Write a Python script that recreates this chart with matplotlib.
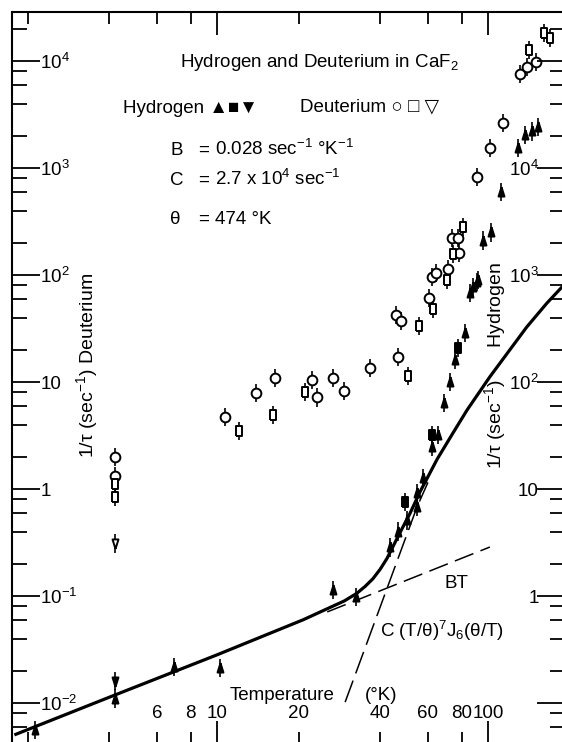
import numpy as np
import matplotlib.pyplot as plt

plt.rcParams['font.family'] = ['Liberation Sans', 'DejaVu Sans']
plt.rcParams['mathtext.fontset'] = 'custom'
plt.rcParams['mathtext.rm'] = 'Liberation Sans'
plt.rcParams['mathtext.it'] = 'Liberation Sans'
plt.rcParams['mathtext.bf'] = 'Liberation Sans:bold'

# ---- data (T in K, 1/tau in sec^-1) ----
# Deuterium, left scale
d_circ_T = [4.2, 4.2, 10.7, 13.9, 16.4, 22.4, 23.4, 26.8, 29.4, 36.7, 46.6, 45.8, 47.8,
            60.5, 62.1, 64.3, 71.2, 78.2, 73.6, 77.4, 91.1, 101.6, 113.5, 131, 139, 150]
d_circ_r = [1.99, 1.32, 4.7, 7.9, 10.9, 10.4, 7.2, 10.9, 8.2, 13.5, 17.1, 42.3, 37.2,
            60.9, 95.7, 104, 114, 161, 222, 222, 824, 1540, 2640, 7570, 8790, 9790]
d_sq_T = [4.2, 4.2, 12.1, 16.1, 21.1, 50.7, 55.6, 62.7, 70.6, 74.2, 80.8, 142, 161, 169]
d_sq_r = [1.11, 0.84, 3.5, 4.9, 8.1, 11.4, 33.4, 48.1, 89.8, 157, 281, 12700, 18300, 16400]
d_dtri_T = [4.2]
d_dtri_r = [0.31]

# Hydrogen, right scale
h_tri_T = [2.13, 4.2, 6.93, 10.3, 26.8, 32.6, 43.5, 46.6, 50.3, 54.7, 54.7, 57.5, 62.1,
           65.3, 68.9, 72.4, 75.8, 82.2, 85.9, 87.9, 91.1, 91.9, 95.9, 102.6, 111.7,
           129, 137, 145, 153]
h_tri_r = [0.056, 0.11, 0.217, 0.212, 1.14, 0.98, 2.85, 4.0, 5.1, 6.8, 9.2, 12.7, 24.7,
           32, 64, 100, 161, 287, 679, 773, 860, 898, 2100, 2500, 5970,
           15400, 20300, 22000, 24100]
h_sq_T = [49.4, 62.1, 77.4]
h_sq_r = [7.6, 32, 208]
h_dtri_T = [4.2]
h_dtri_r = [0.16]

# theory curves (hydrogen scale)
fit_T = [1.81, 4.03, 10.0, 20.8, 25.5, 29.5, 32.8, 35.2, 37.6, 40.0, 42.4, 47.3, 51.5,
         56.1, 64.9, 74.3, 83.8, 101.6, 139, 165, 187.5]
fit_r = [0.051, 0.114, 0.282, 0.60, 0.76, 0.90, 1.06, 1.23, 1.45, 1.78, 2.25, 3.9, 5.9,
         9.4, 19, 33.5, 55, 112, 327, 547, 773]
bt_T = [25.5, 101.6]
bt_r = [0.71, 2.87]
c_T = [29.7, 54.7, 60.0]
c_r = [0.102, 6.8, 11.5]

left_ticks = [1e-3, 1e-2, 1e-1, 1, 10, 1e2, 1e3, 1e4, 1e5]
left_labels = ['', '$10^{-2}$', '$10^{-1}$', '1', '10', '$10^{2}$', '$10^{3}$', '$10^{4}$', '']
right_ticks = [1e-1, 1, 10, 1e2, 1e3, 1e4, 1e5]
right_labels = ['', '1', '10', '$10^{2}$', '$10^{3}$', '$10^{4}$', '']
x_major = [10, 100]
x_minor = [2, 4, 6, 8, 20, 40, 60, 80]
x_minor_labels = ['', '', '6', '8', '20', '40', '60', '80']

W, H = 562, 742
def px(x):
    return x / W
def py(y):
    return 1 - y / H

fig = plt.figure(figsize=(W / 100, H / 100), dpi=100)
ax = fig.add_axes([px(12), py(744), (565 - 12) / W, (744 - 12) / H])
ax.set_xscale('log')
ax.set_yscale('log')
ax.set_xlim(10 ** 0.2435, 10 ** 2.284)
ax.set_ylim(10 ** -2.383, 10 ** 4.458)
axh = ax.twinx()
axh.set_yscale('log')
axh.set_ylim(10 ** -1.383, 10 ** 5.458)

rect = [(-0.55, -1), (0.55, -1), (0.55, 1), (-0.55, 1), (-0.55, -1)]
tri_up = [(0, 1), (-0.55, -0.75), (0.55, -0.75), (0, 1)]
tri_dn = [(0, -1), (-0.55, 0.75), (0.55, 0.75), (0, -1)]
err = 1.22

def bars(a, T, r, marker, ms, filled):
    r = np.array(r)
    yerr = [r - r / err, r * err - r]
    a.errorbar(T, r, yerr=yerr, fmt='none', ecolor='black', elinewidth=1.2,
               capsize=0, zorder=3)
    a.plot(T, r, linestyle='none', marker=marker, ms=ms,
           mfc='black' if filled else 'white', mec='black', mew=1.4, zorder=4)

# curves
axh.plot(fit_T, fit_r, color='black', lw=2.3, zorder=2, solid_joinstyle='round')
axh.plot(bt_T, bt_r, color='black', lw=1.1, dashes=(13, 5), zorder=2)
axh.plot(c_T, c_r, color='black', lw=1.1, dashes=(15, 5), zorder=2)

bars(ax, d_circ_T, d_circ_r, 'o', 7, False)
bars(ax, d_sq_T, d_sq_r, rect, 7.2, False)
bars(ax, d_dtri_T, d_dtri_r, tri_dn, 7.8, False)
bars(axh, h_tri_T, h_tri_r, tri_up, 7.8, True)
bars(axh, h_sq_T, h_sq_r, rect, 7.2, True)
bars(axh, h_dtri_T, h_dtri_r, tri_dn, 7.8, True)

# x ticks inside, labels inside near bottom
ax.set_xticks(x_major, labels=['10', '100'])
ax.set_xticks(x_minor, labels=x_minor_labels, minor=True)
ax.tick_params(axis='x', which='both', direction='in', top=True, bottom=True,
               labelsize=13.5, pad=-28, width=1.3)
ax.tick_params(axis='x', which='major', length=16.5)
ax.tick_params(axis='x', which='minor', length=8.6)

# left (deuterium) scale
ax.set_yticks(left_ticks, labels=left_labels)
ax.set_yticks([m * 10.0 ** k for k in range(-3, 5) for m in (2, 4, 6, 8)], minor=True)
ax.tick_params(axis='y', which='both', direction='in', left=True, right=False,
               labelleft=True, labelright=False, labelsize=13.5, pad=-20.5, width=1.3)
ax.tick_params(axis='y', which='major', length=20)
ax.tick_params(axis='y', which='minor', length=11)
ax.set_ylim(10 ** -2.383, 10 ** 4.458)
for lab in ax.get_yticklabels():
    lab.set_horizontalalignment('left')

# right (hydrogen) scale
axh.set_yticks(right_ticks, labels=right_labels)
axh.set_yticks([m * 10.0 ** k for k in range(-2, 6) for m in (2, 4, 6, 8)], minor=True)
axh.tick_params(axis='y', which='both', direction='in', left=False, right=True,
                labelleft=False, labelright=True, labelsize=13.5, pad=-19, width=1.3)
axh.tick_params(axis='y', which='major', length=20)
axh.tick_params(axis='y', which='minor', length=11)
axh.set_ylim(10 ** -1.383, 10 ** 5.458)
for lab in axh.get_yticklabels():
    lab.set_horizontalalignment('right')

for s in ax.spines.values():
    s.set_linewidth(1.5)
for s in axh.spines.values():
    s.set_visible(False)

# texts
fs = 13.5
fig.text(px(180), py(67), 'Hydrogen and Deuterium in CaF$_2$', fontsize=fs, va='baseline')
fig.text(px(123), py(113), 'Hydrogen \u25B2\u25A0\u25BC', fontsize=fs, va='baseline')
fig.text(px(300), py(111), 'Deuterium \u25CB \u25A1 \u25BD', fontsize=fs, va='baseline')
rows = [('B', '0.028 sec$^{-1}$ °K$^{-1}$', 155),
        ('C', '2.7 x 10$^{4}$ sec$^{-1}$', 185),
        ('\u03b8', '474 °K', 224)]
for name, val, yb in rows:
    fig.text(px(170), py(yb), name, fontsize=fs, va='baseline')
    fig.text(px(198), py(yb), '=', fontsize=fs, va='baseline')
    fig.text(px(215), py(yb), val, fontsize=fs, va='baseline')

fig.text(px(445), py(588), 'BT', fontsize=fs, va='baseline')
fig.text(px(380), py(637), 'C (T/\u03b8)$^{7}$J$_{6}$(\u03b8/T)', fontsize=fs, va='baseline')
fig.text(px(230), py(700), 'Temperature', fontsize=fs, va='baseline')
fig.text(px(365), py(700), '(°K)', fontsize=fs, va='baseline')

fig.text(px(87), py(365), '1/\u03c4 (sec$^{-1}$) Deuterium', fontsize=14,
         rotation=90, ha='center', va='center')
fig.text(px(495), py(366), '1/\u03c4 (sec$^{-1}$)      Hydrogen', fontsize=14,
         rotation=90, ha='center', va='center')

fig.savefig('out.png', dpi=100)
